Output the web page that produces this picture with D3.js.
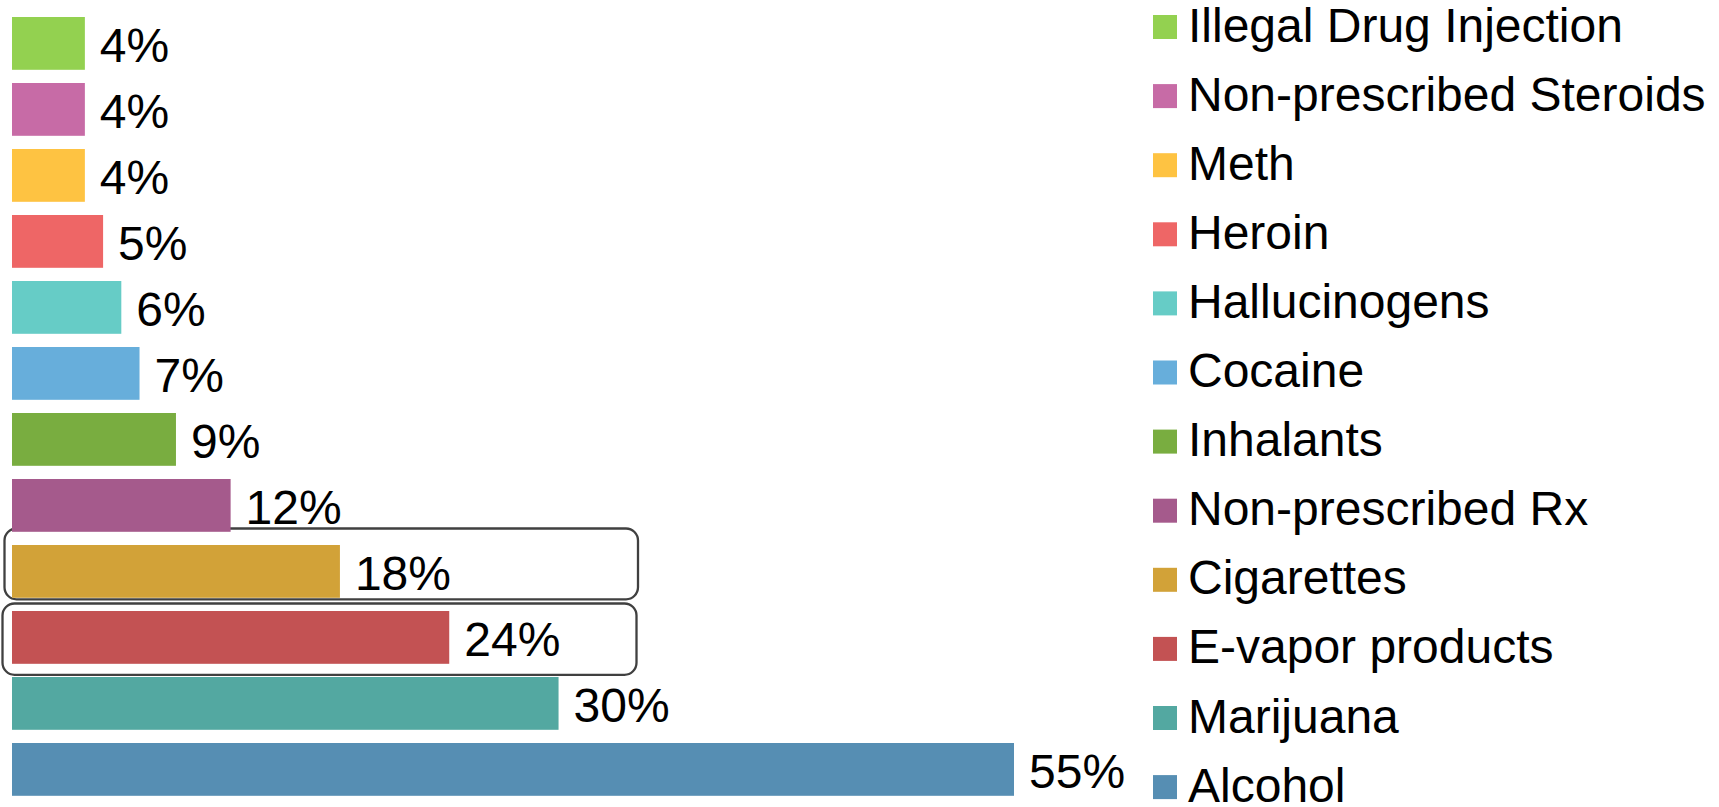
<!DOCTYPE html>
<html>
<head>
<meta charset="utf-8">
<script src="https://cdn.jsdelivr.net/npm/d3@7"></script>
<style>
    body { margin: 0; background: #fff; }
    svg text { font-family: "Liberation Sans", Arial, sans-serif; fill: #000; }
</style>
</head>
<body>
<div id="chart"></div>
<script>
// top to bottom, as in the picture
const categories = [
    "Illegal Drug Injection", "Non-prescribed Steroids", "Meth", "Heroin",
    "Hallucinogens", "Cocaine", "Inhalants", "Non-prescribed Rx",
    "Cigarettes", "E-vapor products", "Marijuana", "Alcohol"
];
const values = [4, 4, 4, 5, 6, 7, 9, 12, 18, 24, 30, 55];
const colors = [
    "#93d150", "#c76ba6", "#fec342", "#ee6666",
    "#66ccc6", "#67aedb", "#79ad40", "#a55a8c",
    "#d2a238", "#c35253", "#53a8a1", "#568eb3"
];
// rows that get the rounded outline
const highlighted = ["Cigarettes", "E-vapor products"];

const width = 1719, height = 807;

const svg = d3.select("#chart").append("svg")
    .attr("width", width)
    .attr("height", height);

const x = d3.scaleLinear()
    .domain([0, d3.max(values)])
    .range([12, 1014]);

const y = d3.scaleBand()
    .domain(categories)
    .range([10.4, 802.4])
    .paddingInner(0.2)
    .paddingOuter(0.1);

const data = categories.map((c, i) => ({name: c, value: values[i], color: colors[i]}));

// outlines behind bars
const boxPad = {
    "Cigarettes": {top: 16.5, bottom: 1.5, left: 4.5, right: 638},
    "E-vapor products": {top: 7.5, bottom: 11, left: 2.5, right: 636.5}
};
svg.append("g").selectAll("rect")
    .data(highlighted)
    .join("rect")
    .attr("x", d => boxPad[d].left)
    .attr("y", d => y(d) - boxPad[d].top)
    .attr("width", d => boxPad[d].right - boxPad[d].left)
    .attr("height", d => y.bandwidth() + boxPad[d].top + boxPad[d].bottom)
    .attr("rx", 12)
    .attr("fill", "none")
    .attr("stroke", "#404040")
    .attr("stroke-width", 2.3);

svg.append("g").selectAll("rect")
    .data(data)
    .join("rect")
    .attr("x", x(0))
    .attr("y", d => y(d.name))
    .attr("width", d => x(d.value) - x(0))
    .attr("height", y.bandwidth())
    .attr("fill", d => d.color);

svg.append("g").selectAll("text")
    .data(data)
    .join("text")
    .attr("x", d => x(d.value) + 15)
    .attr("y", d => y(d.name) + y.bandwidth() / 2)
    .attr("dy", "0.38em")
    .style("font-size", "48px")
    .text(d => d.value + "%");

// legend
const legendStep = 69.1;
const legend = svg.append("g")
    .attr("transform", "translate(1153,15)");

const item = legend.selectAll("g")
    .data(data)
    .join("g")
    .attr("transform", (d, i) => "translate(0," + (i * legendStep) + ")");

item.append("rect")
    .attr("width", 24)
    .attr("height", 24)
    .attr("fill", d => d.color);

item.append("text")
    .attr("x", 35)
    .attr("y", 26.5)
    .style("font-size", "48px")
    .text(d => d.name);
</script>
</body>
</html>
